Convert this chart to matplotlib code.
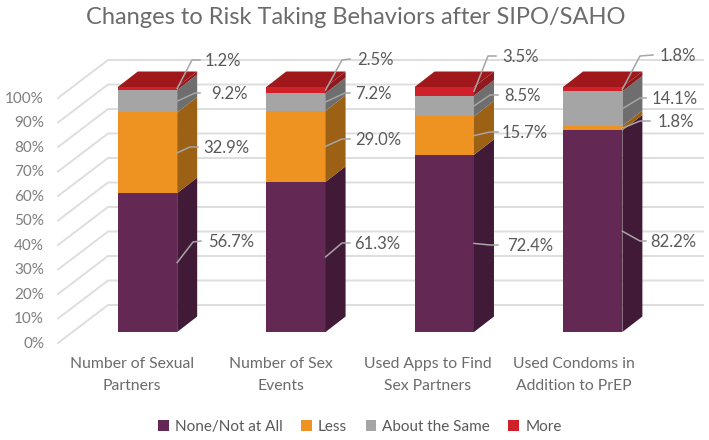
import matplotlib
matplotlib.use('Agg')
import matplotlib.pyplot as plt
from matplotlib.patches import Polygon, Patch
import numpy as np

plt.rcParams['font.family'] = ['Lato', 'DejaVu Sans']

# data (% of respondents)
categories = ['Number of Sexual\nPartners', 'Number of Sex\nEvents',
              'Used Apps to Find\nSex Partners', 'Used Condoms in\nAddition to PrEP']
series_names = ['None/Not at All', 'Less', 'About the Same', 'More']
none_vals = [56.7, 61.3, 72.4, 82.2]
less_vals = [32.9, 29.0, 15.7, 1.8]
same_vals = [9.2, 7.2, 8.5, 14.1]
more_vals = [1.2, 2.5, 3.5, 1.8]
y_ticks = [0, 10, 20, 30, 40, 50, 60, 70, 80, 90, 100]

front_cols = ['#642854', '#EE9322', '#A5A5A5', '#D0202A']
side_cols = ['#411A37', '#9C6114', '#6E6E6E', '#8E1A1E']
top_col = '#A0181C'

W, H = 709, 440
X0, XSTEP = 147.5, 148.4   # pixel centre of first bar, bar spacing
Y0, YSCALE = 332.0, 2.45   # pixel of 0% at bar front, pixels per %


def px(x, y):
    """pixel position of the reference -> data coordinates"""
    return (x - X0) / XSTEP, (Y0 - y) / YSCALE


fig = plt.figure(figsize=(W / 100, H / 100), dpi=100)
ax = fig.add_axes([0, 0, 1, 1])
ax.set_xlim(px(0, 0)[0], px(W, 0)[0])
ax.set_ylim(px(0, H)[1], px(0, 0)[1])
ax.axis('off')

bar_w = 0.4
depth_x = 20 / XSTEP
depth_y = 15.5 / YSCALE

# walls
wall_col = '#DEDEDE'
for t in y_ticks:
    xa, ya = px(58, 0)[0], t + px(0, 343)[1]
    xb, yb = px(108, 0)[0], t + px(0, 305)[1]
    xc = px(703, 0)[0]
    ax.plot([xa, xb, xc], [ya, yb, yb], color=wall_col, lw=1.4, zorder=1)
    ax.text(px(44, 0)[0], ya - 0.4, f'{t}%', ha='right', va='center',
            fontsize=11, color='#7F7F7F')

# bars
stack = np.array([none_vals, less_vals, same_vals, more_vals])
tops = np.cumsum(stack, axis=0) / stack.sum(axis=0) * 100
bottoms = np.vstack([np.zeros(len(categories)), tops[:-1]])
cat_x = [132, 281, 428, 574]
for i in range(len(categories)):
    l, r = i - bar_w / 2, i + bar_w / 2
    for s in range(len(series_names)):
        b, t = bottoms[s, i], tops[s, i]
        ax.add_patch(Polygon([(l, b), (r, b), (r, t), (l, t)], fc=front_cols[s], ec='none', zorder=3))
        ax.add_patch(Polygon([(r, b), (r + depth_x, b + depth_y), (r + depth_x, t + depth_y), (r, t)],
                             fc=side_cols[s], ec='none', zorder=3))
    ax.add_patch(Polygon([(l, 100), (r, 100), (r + depth_x, 100 + depth_y), (l + depth_x, 100 + depth_y)],
                         fc=top_col, ec='none', zorder=3))
    ax.text(px(cat_x[i], 0)[0], px(0, 375)[1], categories[i], ha='center', va='center',
            fontsize=11.3, color='#6B6B6B', linespacing=1.65)

# data labels: elbow and text position in reference pixels, per bar and series
elbows = [[((193, 242), (201, 241)), ((190, 147), (198, 147)), ((195, 93), (200, 93)), ((192, 60), (200, 60))],
          [((342, 243), (350, 243)), ((342, 139), (350, 139)), ((345, 93), (350, 93)), ((342, 60), (350, 59))],
          [((490, 245), (498, 245)), ((490, 132), (498, 132)), ((490, 95), (498, 95)), ((488, 56), (496, 56))],
          [((640, 241), (646, 241)), ((640, 121), (650, 121)), ((640, 98), (646, 98)), ((640, 56), (653, 55))]]
label_x = [[208, 203, 211, 205], [354, 355, 355, 357], [507, 502, 504, 502], [650, 658, 652, 660]]
for i in range(len(categories)):
    for s in range(len(series_names)):
        mid = (bottoms[s, i] + tops[s, i]) / 2
        p1, p2 = elbows[i][s]
        xs = [i + bar_w / 2, px(*p1)[0], px(*p2)[0]]
        ys = [mid, px(*p1)[1], px(*p2)[1]]
        ax.plot(xs, ys, color='#A6A6A6', lw=1.1, zorder=4, solid_joinstyle='round')
        ax.text(px(label_x[i][s], 0)[0], px(p2[0], p2[1] + 1)[1], f'{stack[s, i]:.1f}%', ha='left', va='center',
                fontsize=12, color='#595959', zorder=5)

ax.text(px(356, 0)[0], px(0, 18)[1], 'Changes to Risk Taking Behaviors after SIPO/SAHO',
        ha='center', va='center', fontsize=17, color='#6B6B6B')

handles = [Patch(fc=c, ec='none') for c in front_cols]
ax.legend(handles, series_names, ncol=4, frameon=False, loc='center', handlelength=0.7, handleheight=0.7,
          bbox_to_anchor=(px(360, 0)[0], px(0, 427)[1]), bbox_transform=ax.transData,
          fontsize=11, labelcolor='#595959', columnspacing=1.2, handletextpad=0.4)

fig.savefig('out.png', dpi=100)
